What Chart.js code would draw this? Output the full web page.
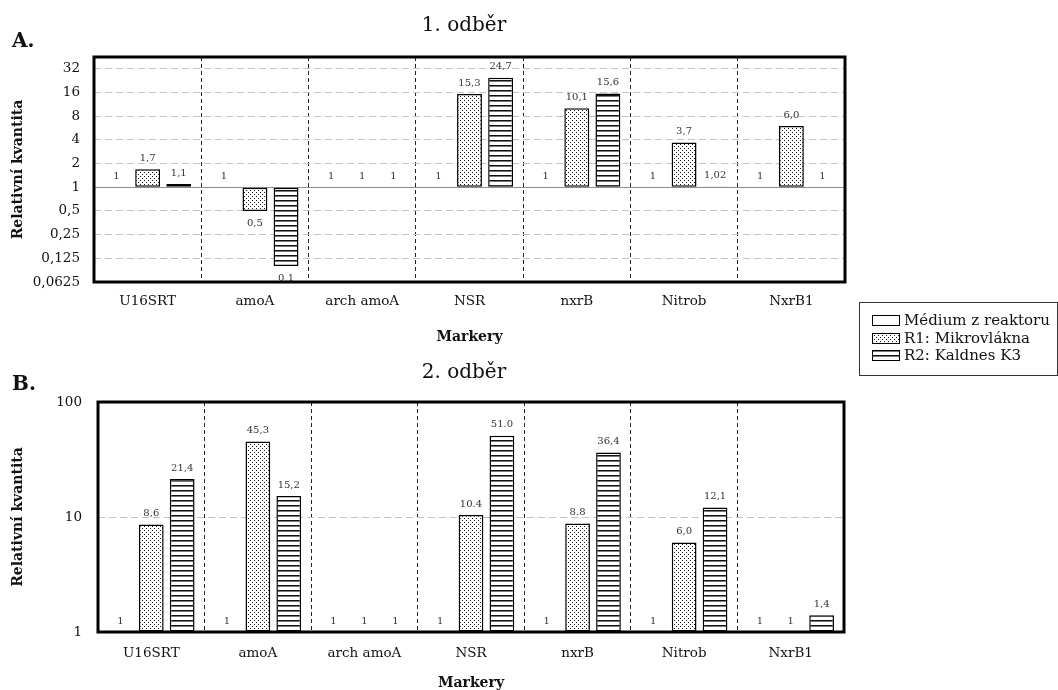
<!DOCTYPE html>
<html>
<head>
<meta charset="utf-8">
<script src="https://cdn.jsdelivr.net/npm/chart.js@4.4.0/dist/chart.umd.min.js"></script>
<style>
  html, body { margin: 0; padding: 0; background: #fff; width: 1058px; height: 690px; overflow: hidden; font-family: 'DejaVu Serif', serif; color: #111; }
  #wrap { position: relative; width: 1058px; height: 690px; }
  canvas.chart { position: absolute; left: 0; }
  #cA { top: 0; }
  #cB { top: 350px; }
  .panel { position: absolute; left: 12px; font-weight: bold; font-size: 20px; line-height: 20px; }
  #legend { position: absolute; left: 859px; top: 302px; width: 197px; height: 72px; border: 1px solid #333; background: #fff; z-index: 2; }
  .item { position: absolute; left: 12px; height: 18px; display: flex; align-items: center; font-size: 15px; white-space: nowrap; }
  .item canvas { margin-right: 4px; }
</style>
</head>
<body>
<div id="wrap">
  <canvas id="cA" class="chart" width="928" height="350"></canvas>
  <canvas id="cB" class="chart" width="928" height="345"></canvas>
  <div class="panel" style="top:30px">A.</div>
  <div class="panel" style="top:373px">B.</div>
  <div id="legend"></div>
</div>
<script>
// Gene markers and sample series
const markers = ['U16SRT', 'amoA', 'arch amoA', 'NSR', 'nxrB', 'Nitrob', 'NxrB1'];
const seriesNames = ['Médium z reaktoru', 'R1: Mikrovlákna', 'R2: Kaldnes K3'];

// 1. odběr – relative quantity
const mediumA = [1, 1, 1, 1, 1, 1, 1];
const r1A = [1.7, 0.5, 1, 15.3, 10.1, 3.7, 6.0];
const r2A = [1.1, 0.1, 1, 24.7, 15.6, 1.02, 1];
const mediumLabelsA = ['1', '1', '1', '1', '1', '1', '1'];
const r1LabelsA = ['1,7', '0,5', '1', '15,3', '10,1', '3,7', '6,0'];
const r2LabelsA = ['1,1', '0,1', '1', '24,7', '15,6', '1,02', '1'];

// 2. odběr – relative quantity
const mediumB = [1, 1, 1, 1, 1, 1, 1];
const r1B = [8.6, 45.3, 1, 10.4, 8.8, 6.0, 1];
const r2B = [21.4, 15.2, 1, 51.0, 36.4, 12.1, 1.4];
const mediumLabelsB = ['1', '1', '1', '1', '1', '1', '1'];
const r1LabelsB = ['8,6', '45,3', '1', '10.4', '8.8', '6,0', '1'];
const r2LabelsB = ['21,4', '15,2', '1', '51.0', '36,4', '12,1', '1,4'];

// Value axis ticks
const yTicksA = [0.0625, 0.125, 0.25, 0.5, 1, 2, 4, 8, 16, 32];
const yTicksB = [1, 10, 100];

Chart.defaults.font.family = "'DejaVu Serif', serif";
Chart.defaults.color = '#111';

// Fill styles: plain, dotted, horizontal stripes
function makeFill(kind) {
  if (kind === 'plain') return '#ffffff';
  const t = document.createElement('canvas');
  const g = t.getContext('2d');
  if (kind === 'dots') {
    t.width = 4; t.height = 4;
    g.fillStyle = '#fff'; g.fillRect(0, 0, 4, 4);
    g.fillStyle = '#1a1a1a'; g.fillRect(0, 0, 1, 1); g.fillRect(2, 2, 1, 1);
  } else {
    t.width = 6; t.height = 5;
    g.fillStyle = '#fff'; g.fillRect(0, 0, 6, 5);
    g.fillStyle = '#111'; g.fillRect(0, 0, 6, 1);
    g.fillStyle = '#7a7a7a'; g.fillRect(0, 1, 6, 1);
  }
  return g.createPattern(t, 'repeat');
}
const fillKinds = ['plain', 'dots', 'stripes'];
const fills = fillKinds.map(makeFill);

// Value labels above (or below) each bar end
const valueLabels = {
  id: 'valueLabels',
  afterDatasetsDraw(chart) {
    const ctx = chart.ctx;
    ctx.save();
    ctx.font = "10px 'DejaVu Serif'";
    ctx.fillStyle = '#333';
    ctx.textAlign = 'center';
    ctx.textBaseline = 'middle';
    chart.data.datasets.forEach((ds, i) => {
      chart.getDatasetMeta(i).data.forEach((el, j) => {
        const v = ds.data[j];
        const y = v >= 1 ? el.y - 11 : el.y + 12;
        ctx.fillText(ds.valueLabels[j], el.x, y);
      });
    });
    ctx.restore();
  }
};

// Plot frame and the reference line at 1
const frame = {
  id: 'frame',
  beforeDatasetsDraw(chart, args, opts) {
    if (opts.baseline == null) return;
    const ctx = chart.ctx;
    const { left, right } = chart.chartArea;
    const y = Math.round(chart.scales.y.getPixelForValue(opts.baseline)) + 0.5;
    ctx.save();
    ctx.strokeStyle = '#8c8c8c';
    ctx.lineWidth = 1;
    ctx.beginPath();
    ctx.moveTo(left, y);
    ctx.lineTo(right, y);
    ctx.stroke();
    ctx.restore();
  },
  afterDraw(chart) {
    const ctx = chart.ctx;
    const a = chart.chartArea;
    ctx.save();
    ctx.strokeStyle = '#000';
    ctx.lineWidth = 3;
    ctx.strokeRect(a.left, a.top, a.width, a.height);
    ctx.restore();
  }
};

function buildChart(id, o) {
  const datasets = o.series.map((data, i) => ({
    label: seriesNames[i],
    data: data,
    valueLabels: o.labels[i],
    backgroundColor: fills[i]
  }));
  return new Chart(document.getElementById(id), {
    type: 'bar',
    data: { labels: markers, datasets },
    plugins: [frame, valueLabels],
    options: {
      responsive: false,
      animation: false,
      devicePixelRatio: 1,
      layout: { padding: 0 },
      datasets: {
        bar: {
          base: 1,
          borderColor: '#000',
          borderWidth: 1.5,
          borderSkipped: false,
          inflateAmount: 0,
          categoryPercentage: 0.87,
          barPercentage: 0.8
        }
      },
      plugins: {
        legend: { display: false },
        tooltip: { enabled: false },
        title: {
          display: true,
          text: o.title,
          font: { size: 20, weight: 'normal' },
          color: '#111',
          padding: o.titlePad
        },
        frame: { baseline: o.baseline }
      },
      scales: {
        x: {
          grid: { color: '#222', lineWidth: 1, offset: true, drawTicks: false },
          border: { display: false, dash: [4, 3] },
          ticks: { padding: o.xTickPad, color: '#111', font: { size: 13.5 } },
          title: {
            display: true, text: 'Markery', color: '#111',
            font: { size: 14, weight: 'bold' },
            padding: { top: 0, bottom: o.xTitlePad }
          },
          afterFit(s) { s.height = o.xHeight; }
        },
        y: {
          type: 'logarithmic',
          min: o.min,
          max: o.max,
          afterBuildTicks(s) { s.ticks = o.ticks.map(v => ({ value: v })); },
          ticks: {
            callback: v => String(v).replace('.', ','),
            padding: o.yTickPad, autoSkip: false, color: '#111',
            font: { size: 13.5 }
          },
          grid: {
            color: c => (c.tick && c.tick.value === o.baseline) ? 'rgba(0,0,0,0)' : '#c4c4c4',
            lineWidth: 1,
            drawTicks: false
          },
          border: { display: false, dash: [7, 4] },
          title: {
            display: true, text: 'Relativní kvantita', color: '#111',
            font: { size: 14, weight: 'bold' },
            padding: { top: 10, bottom: 0 }
          },
          afterFit(s) { s.width = o.yWidth; }
        },
        // empty right-hand margin (room for the legend column)
        side: {
          type: 'linear',
          axis: 'y',
          position: 'right',
          display: true,
          grid: { display: false, drawTicks: false },
          border: { display: false },
          ticks: { display: false },
          afterFit(s) { s.width = o.sideWidth; }
        }
      }
    }
  });
}

buildChart('cA', {
  title: '1. odběr',
  series: [mediumA, r1A, r2A],
  labels: [mediumLabelsA, r1LabelsA, r2LabelsA],
  ticks: yTicksA, min: 0.0625, max: 45.25, baseline: 1,
  sideWidth: 83, titlePad: { top: 14, bottom: 19 },
  xHeight: 68, xTickPad: 11, xTitlePad: 4.6,
  yWidth: 94, yTickPad: 14
});

buildChart('cB', {
  title: '2. odběr',
  series: [mediumB, r1B, r2B],
  labels: [mediumLabelsB, r1LabelsB, r2LabelsB],
  ticks: yTicksB, min: 1, max: 100, baseline: null,
  sideWidth: 84, titlePad: { top: 11, bottom: 17 },
  xHeight: 63, xTickPad: 13, xTitlePad: 3.6,
  yWidth: 98, yTickPad: 16
});

// Legend with the same fills as the bars
const legend = document.getElementById('legend');
const itemTops = [8, 26, 43];
seriesNames.forEach((name, i) => {
  const item = document.createElement('div');
  item.className = 'item';
  item.style.top = itemTops[i] + 'px';
  const sw = document.createElement('canvas');
  sw.width = 28; sw.height = 11;
  const g = sw.getContext('2d');
  g.fillStyle = fills[i];
  g.fillRect(0, 0, 28, 11);
  g.strokeStyle = '#000';
  g.lineWidth = 1;
  g.strokeRect(0.5, 0.5, 27, 10);
  item.appendChild(sw);
  const txt = document.createElement('span');
  txt.textContent = name;
  item.appendChild(txt);
  legend.appendChild(item);
});
</script>
</body>
</html>
